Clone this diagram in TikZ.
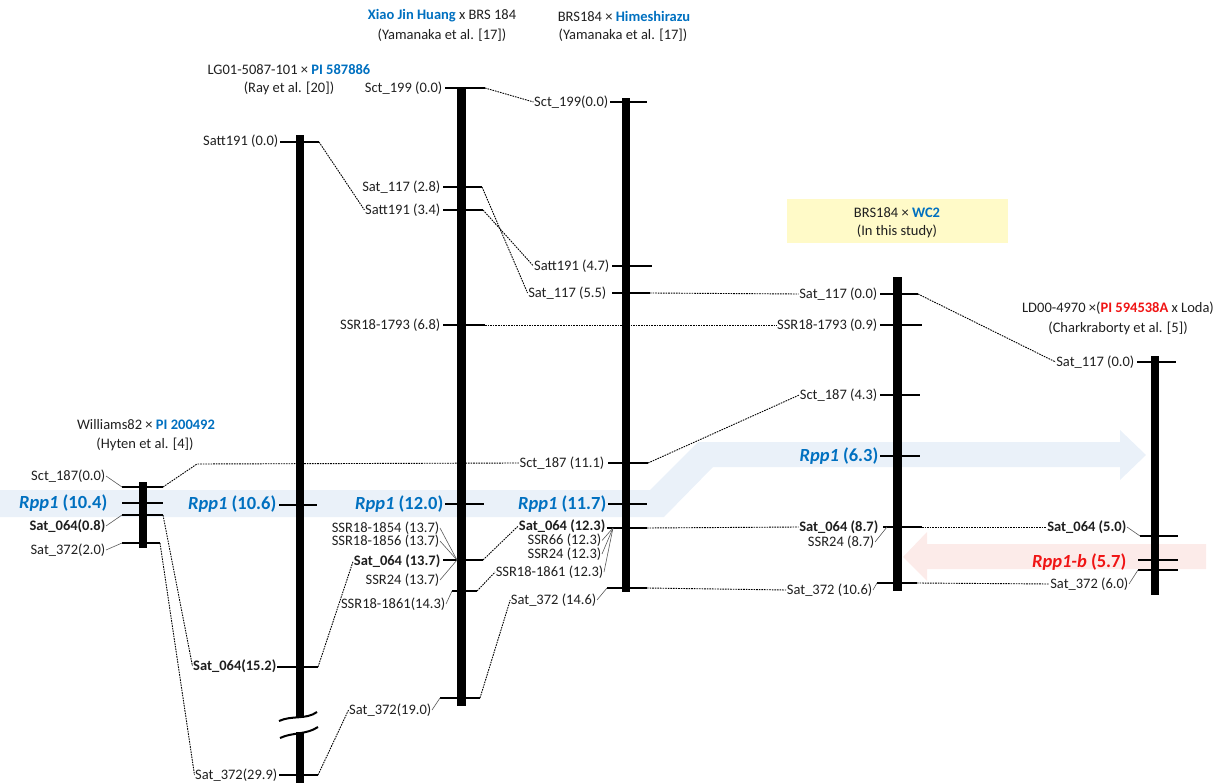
\documentclass[tikz,border=0pt]{standalone}
\usepackage{fontspec}
\setmainfont{Carlito}
\definecolor{nblue}{RGB}{0,112,192}
\definecolor{nred}{RGB}{240,20,20}
\definecolor{bandblue}{RGB}{234,241,249}
\definecolor{bandred}{RGB}{252,235,233}
\definecolor{ybox}{RGB}{255,250,200}
\newcommand\tk[4]{\coordinate (#1l) at (#3,#2); \coordinate (#1r) at (#4,#2); \draw[tick] (#1l) -- (#1r);}
\begin{document}
\begin{tikzpicture}[x=1pt,y=-1pt,
 lbl/.style={font=\fontsize{14.5}{15}\selectfont, text=black!88, inner sep=0.5pt},
 blbl/.style={font=\fontsize{14.5}{15}\selectfont\bfseries, text=black!88, inner sep=0.5pt},
 rpp/.style={font=\fontsize{18.5}{20}\selectfont\bfseries, text=nblue, inner sep=0.5pt},
 hdr/.style={font=\fontsize{14.5}{16}\selectfont, text=black!88, inner sep=0pt},
 tick/.style={line width=1.8pt},
 link/.style={line width=0.9pt, dash pattern=on 1.6pt off 1pt},
 lead/.style={line width=0.6pt, black!65},
 chrom/.style={fill=black, draw=none, inner sep=0pt}]
\useasboundingbox (0,0) rectangle (1229,783);
% background arrows
\fill[bandblue] (0,490) -- (650,490) -- (698,442) -- (1120,442) -- (1120,430) -- (1146,455) -- (1120,480) -- (1120,467) -- (713,467) -- (664,517) -- (0,517) -- cycle;
\fill[bandred] (1206,544) -- (927,544) -- (927,532) -- (903,557) -- (927,581) -- (927,569) -- (1206,569) -- cycle;
% headers
\node[hdr] (hA1) at (146,425) {Williams82 × \textcolor{nblue}{\bfseries PI 200492}};
\node[hdr] (hA2) at (145,444) {(Hyten et al. [4])};
\node[hdr] (hB1) at (289,70) {LG01-5087-101 × \textcolor{nblue}{\bfseries PI 587886}};
\node[hdr] (hB2) at (289,88) {(Ray et al. [20])};
\node[hdr] (hC1) at (442,16) {\textcolor{nblue}{\bfseries Xiao Jin Huang} x BRS 184};
\node[hdr] (hC2) at (442,35) {(Yamanaka et al. [17])};
\node[hdr] (hD1) at (624,16) {BRS184 × \textcolor{nblue}{\bfseries Himeshirazu}};
\node[hdr] (hD2) at (623,35) {(Yamanaka et al. [17])};
\node[fill=ybox, minimum width=221pt, minimum height=44pt, inner sep=0pt] (hE0) at (897.5,221) {};
\node[hdr] (hE1) at (897,213) {BRS184 × \textcolor{nblue}{\bfseries WC2}};
\node[hdr] (hE2) at (897,231) {(In this study)};
\node[hdr] (hF1) at (1118,308) {LD00-4970 ×(\textcolor{nred}{\bfseries PI 594538A} x Loda)};
\node[hdr] (hF2) at (1118,328) {(Charkraborty et al. [5])};
% chromosome bars
\node[chrom, minimum width=8pt, minimum height=66pt] (chrA) at (143,515) {};
\node[chrom, minimum width=8pt, minimum height=582pt] (chrB) at (300,426) {};
\node[chrom, minimum width=8pt, minimum height=52pt] (chrBb) at (300,758) {};
\node[chrom, minimum width=8.5pt, minimum height=618pt] (chrC) at (461.5,397) {};
\node[chrom, minimum width=8pt, minimum height=494pt] (chrD) at (626,345) {};
\node[chrom, minimum width=9pt, minimum height=314pt] (chrE) at (897.5,434) {};
\node[chrom, minimum width=8pt, minimum height=239pt] (chrF) at (1154.5,475.5) {};
% break on B
\draw[line width=2pt] (279,721) .. controls (292,715) and (306,720) .. (317,712);
\draw[line width=2pt] (280,738) .. controls (293,732) and (306,735) .. (318,727);
% ticks
\tk{A1}{487}{122}{163}
\tk{A2}{503}{122}{163}
\tk{A3}{515}{122}{163}
\tk{A4}{543}{122}{160}
\tk{B1}{142}{280}{319}
\tk{B2}{505}{279}{317}
\tk{B3}{667}{277}{318}
\tk{B4}{775}{279}{318}
\tk{C1}{88}{445}{485}
\tk{C2}{187}{443}{482}
\tk{C3}{210}{443}{483}
\tk{C4}{325}{443}{485}
\tk{C5}{504}{445}{484}
\tk{C6}{560}{443}{483}
\tk{C7}{591}{452}{477}
\tk{C8}{698}{440}{480}
\tk{D1}{102}{610}{647}
\tk{D2}{266}{612}{652}
\tk{D3}{293}{612}{650}
\tk{D4}{463}{608}{648}
\tk{D5}{504}{608}{647}
\tk{D6}{528}{607}{647}
\tk{D7}{588}{607}{647}
\tk{E1}{294}{880}{918}
\tk{E2}{325}{880}{922}
\tk{E3}{395}{880}{920}
\tk{E4}{456}{880}{920}
\tk{E5}{527}{883}{922}
\tk{E6}{583}{877}{917}
\tk{F1}{362}{1137}{1176}
\tk{F2}{536}{1140}{1178}
\tk{F3}{560}{1138}{1178}
\tk{F4}{570}{1138}{1178}
% labels A
\node[lbl,anchor=east] (lA1) at (106,476) {Sct\_187(0.0)};
\node[rpp,anchor=east] (lA2) at (108,503) {\textit{Rpp1} (10.4)};
\node[blbl,anchor=east] (lA3) at (106,526) {Sat\_064(0.8)};
\node[lbl,anchor=east] (lA4) at (106,550) {Sat\_372(2.0)};
% labels B
\node[lbl,anchor=east] (lB1) at (279,141) {Satt191 (0.0)};
\node[rpp,anchor=east] (lB2) at (277,504) {\textit{Rpp1} (10.6)};
\node[blbl,anchor=east] (lB3) at (277,666) {Sat\_064(15.2)};
\node[lbl,anchor=east] (lB4) at (278,775) {Sat\_372(29.9)};
% labels C
\node[lbl,anchor=east] (lC1) at (443,88) {Sct\_199 (0.0)};
\node[lbl,anchor=east] (lC2) at (441,187) {Sat\_117 (2.8)};
\node[lbl,anchor=east] (lC3) at (441,210) {Satt191 (3.4)};
\node[lbl,anchor=east] (lC4) at (441,325) {SSR18-1793 (6.8)};
\node[rpp,anchor=east] (lC5) at (444,504) {\textit{Rpp1} (12.0)};
\node[lbl,anchor=east] (lC6a) at (440,528) {SSR18-1854 (13.7)};
\node[lbl,anchor=east] (lC6b) at (440,541) {SSR18-1856 (13.7)};
\node[blbl,anchor=east] (lC6) at (441,561) {Sat\_064 (13.7)};
\node[lbl,anchor=east] (lC6c) at (440,580) {SSR24 (13.7)};
\node[lbl,anchor=east] (lC7) at (446,604) {SSR18-1861(14.3)};
\node[lbl,anchor=east] (lC8) at (432,710) {Sat\_372(19.0)};
% labels D
\node[lbl,anchor=east] (lD1) at (609,102) {Sct\_199(0.0)};
\node[lbl,anchor=east] (lD2) at (610,266) {Satt191 (4.7)};
\node[lbl,anchor=east] (lD3) at (607,293) {Sat\_117 (5.5)};
\node[lbl,anchor=east] (lD4) at (605,463) {Sct\_187 (11.1)};
\node[rpp,anchor=east] (lD5) at (607,504) {\textit{Rpp1} (11.7)};
\node[blbl,anchor=east] (lD6) at (606,526) {Sat\_064 (12.3)};
\node[lbl,anchor=east] (lD6a) at (602,540.5) {SSR66 (12.3)};
\node[lbl,anchor=east] (lD6b) at (602,554) {SSR24 (12.3)};
\node[lbl,anchor=east] (lD6c) at (604,572) {SSR18-1861 (12.3)};
\node[lbl,anchor=east] (lD7) at (597,600) {Sat\_372 (14.6)};
% labels E
\node[lbl,anchor=east] (lE1) at (878,294) {Sat\_117 (0.0)};
\node[lbl,anchor=east] (lE2) at (878,325) {SSR18-1793 (0.9)};
\node[lbl,anchor=east] (lE3) at (878,395) {Sct\_187 (4.3)};
\node[rpp,anchor=east] (lE4) at (879,456) {\textit{Rpp1} (6.3)};
\node[blbl,anchor=east] (lE5) at (879,527) {Sat\_064 (8.7)};
\node[lbl,anchor=east] (lE5a) at (875,542) {SSR24 (8.7)};
\node[lbl,anchor=east] (lE6) at (873,590) {Sat\_372 (10.6)};
% labels F
\node[lbl,anchor=east] (lF1) at (1135,362) {Sat\_117 (0.0)};
\node[blbl,anchor=east] (lF2) at (1127,527) {Sat\_064 (5.0)};
\node[rpp,anchor=east,text=nred] (lF3) at (1127,562) {\textit{Rpp1-b} (5.7)};
\node[lbl,anchor=east] (lF4) at (1129,584) {Sat\_372 (6.0)};
% leader lines
\coordinate (C6m) at (457,560);
\coordinate (D6m) at (613,528);
\coordinate (E5m) at (887,527);
\draw[lead] (lA1.east) -- (A1l);
\draw[lead] (lA3.east) -- (A3l);
\draw[lead] (lA4.east) -- (A4l);
\draw[lead] (lC6a.east) -- (C6m);
\draw[lead] (lC6b.east) -- (C6m);
\draw[lead] (lC6c.east) -- (C6m);
\draw[lead] (lC7.east) -- (C7l);
\draw[lead] (lC8.east) -- (C8l);
\draw[lead] (lD6a.east) -- (D6m);
\draw[lead] (lD6b.east) -- (D6m);
\draw[lead] (lD6c.east) -- (D6m);
\draw[lead] (lD7.east) -- (D7l);
\draw[lead] (lE5a.east) -- (E5m);
\draw[lead] (lE6.east) -- (E6l);
\draw[lead] (lF2.east) -- (F2l);
\draw[lead] (lF4.east) -- (F4l);
% dotted links
\coordinate (kA1) at (197,464);
\draw[link] (A1r) -- (kA1) -- (lD4.west);
\draw[link] (A3r) -- (lB3.west);
\draw[link] (A4r) -- (lB4.west);
\draw[link] (B1r) -- (lC3.west);
\draw[link] (B3r) -- (lC6.west);
\draw[link] (B4r) -- (lC8.west);
\draw[link] (C1r) -- (lD1.west);
\draw[link] (C2r) -- (lD3.west);
\draw[link] (C3r) -- (lD2.west);
\draw[link] (C4r) -- (lE2.west);
\draw[link] (C6r) -- (lD6.west);
\draw[link] (C7r) -- (lD6c.west);
\draw[link] (C8r) -- (lD7.west);
\draw[link] (D3r) -- (lE1.west);
\draw[link] (D4r) -- (lE3.west);
\draw[link] (D6r) -- (lE5.west);
\draw[link] (D7r) -- (lE6.west);
\draw[link] (E1r) -- (lF1.west);
\draw[link] (E5r) -- (lF2.west);
\draw[link] (E6r) -- (lF4.west);
\end{tikzpicture}
\end{document}
